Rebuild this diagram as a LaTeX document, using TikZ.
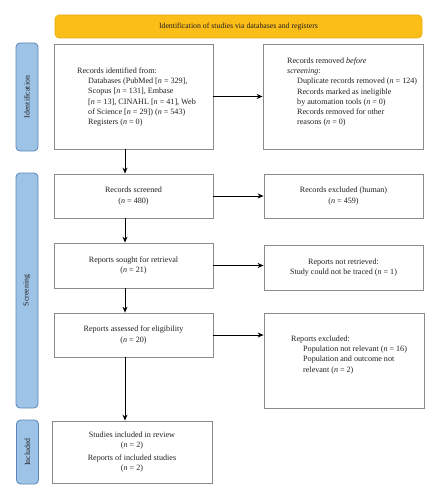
\documentclass[tikz,border=0pt]{standalone}
\usepackage{fontspec}
\setmainfont{Liberation Serif}
\usetikzlibrary{arrows.meta}
\definecolor{boxgray}{HTML}{8A8A8A}
\definecolor{bannerfill}{HTML}{FBBD18}
\definecolor{bannerdraw}{HTML}{E9AA10}
\definecolor{sidefill}{HTML}{9DC3E6}
\definecolor{sidedraw}{HTML}{5B87B8}
\definecolor{ink}{HTML}{231F20}
\begin{document}
\begin{tikzpicture}[x=1pt,y=-1pt,
  box/.style={draw=boxgray, line width=0.8pt, fill=white, inner sep=0pt},
  arr/.style={-{Stealth[length=6pt,width=5pt]}, line width=1pt, draw=black},
  side/.style={draw=sidedraw, fill=sidefill, rounded corners=4pt, line width=0.8pt, minimum width=22pt, inner sep=0pt},
  sidetxt/.style={rotate=90, font=\fontsize{7.8}{9}\selectfont, text=ink},
  txt/.style={font=\fontsize{8.1}{10.2}\selectfont, align=left, inner sep=0pt, text=ink},
  ctxt/.style={font=\fontsize{8.1}{10.2}\selectfont, align=center, inner sep=0pt, text=ink}]
\useasboundingbox (0,0) rectangle (440,500);
\coordinate (ax) at (125,0);
% banner
\node[draw=bannerdraw, fill=bannerfill, rounded corners=4pt, line width=0.6pt,
  minimum width=367pt, minimum height=23pt, inner sep=0pt, ctxt, font=\fontsize{7.8}{9}\selectfont] (ban) at (238.5,26.5)
  {Identification of studies via databases and registers};
% side bars
\node[side, minimum height=108pt] (sid) at (27,97) {};
\node[sidetxt] at (sid.center) {Identification};
\node[side, minimum height=235pt] (sscr) at (27,290.5) {};
\node[sidetxt] at (sscr.center) {Screening};
\node[side, minimum height=64pt] (sinc) at (27.5,452) {};
\node[sidetxt] at (sinc.center) {Included};
% boxes
\node[box, minimum width=159pt, minimum height=105pt] (b1) at (133.5,96.5) {};
\node[txt, anchor=north west] (t1) at (77,67.6) {Records identified from:\\
\hspace*{11pt}Databases (PubMed [\textit{n} = 329],\\
\hspace*{11pt}Scopus [\textit{n} = 131], Embase\\
\hspace*{11pt}[\textit{n} = 13], CINAHL [\textit{n} = 41], Web\\
\hspace*{11pt}of Science [\textit{n} = 29]) (\textit{n} = 543)\\
\hspace*{11pt}Registers (\textit{n} = 0)};
\node[box, minimum width=160pt, minimum height=105pt] (b2) at (343,96.5) {};
\node[txt, anchor=north west] (t2) at (287,57.6) {Records removed \textit{before}\\
\textit{screening}:\\
\hspace*{10pt}Duplicate records removed (\textit{n} = 124)\\
\hspace*{10pt}Records marked as ineligible\\
\hspace*{10pt}by automation tools (\textit{n} = 0)\\
\hspace*{10pt}Records removed for other\\
\hspace*{10pt}reasons (\textit{n} = 0)};
\node[box, ctxt, minimum width=159pt, minimum height=44pt] (b3) at (133.5,196)
  {Records screened\\(\textit{n} = 480)};
\node[box, ctxt, minimum width=159pt, minimum height=44pt] (b4) at (343.5,196)
  {Records excluded (human)\\(\textit{n} = 459)};
\node[box, ctxt, minimum width=159pt, minimum height=45pt] (b5) at (133.5,265.5)
  {Reports sought for retrieval\\(\textit{n} = 21)};
\node[box, ctxt, minimum width=159pt, minimum height=45pt] (b6) at (343.5,267.5)
  {Reports not retrieved:\\Study could not be traced (\textit{n} = 1)};
\node[box, ctxt, minimum width=159pt, minimum height=44pt] (b7) at (133.5,335)
  {Reports assessed for eligibility\\(\textit{n} = 20)};
\node[box, minimum width=160pt, minimum height=95pt] (b8) at (344,360.5) {};
\node[txt, anchor=north west] (t8) at (291,335.6) {Reports excluded:\\
\hspace*{12pt}Population not relevant (\textit{n} = 16)\\
\hspace*{12pt}Population and outcome not\\
\hspace*{12pt}relevant (\textit{n} = 2)};
\node[box, ctxt, minimum width=160pt, minimum height=62pt] (b9) at (132,452)
  {Studies included in review\\(\textit{n} = 2)\\[2.5pt]Reports of included studies\\(\textit{n} = 2)};
% arrows
\draw[arr] (b1.east) -- (b2.west);
\draw[arr] (b3.east) -- (b3.east -| b4.west);
\draw[arr] (b5.east) -- (b5.east -| b6.west);
\draw[arr] (b7.east) -- (b7.east -| b8.west);
\draw[arr] (b1.south -| ax) -- (b3.north -| ax);
\draw[arr] (b3.south -| ax) -- (b5.north -| ax);
\draw[arr] (b5.south -| ax) -- (b7.north -| ax);
\draw[arr] (b7.south -| ax) -- (b9.north -| ax);
\end{tikzpicture}
\end{document}
